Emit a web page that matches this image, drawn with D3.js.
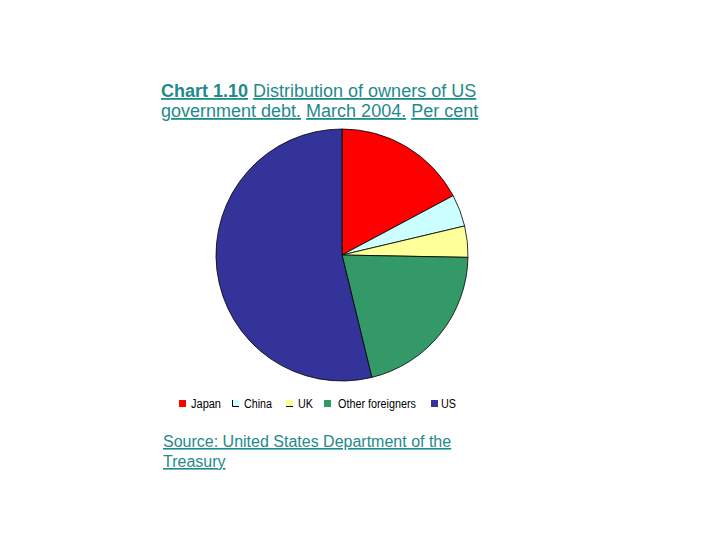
<!DOCTYPE html>
<html>
<head>
<meta charset="utf-8">
<script src="https://cdn.jsdelivr.net/npm/d3@7"></script>
<style>
  body { margin: 0; background: #fff; }
  .title, .source { fill: #1f8a8a; font-family: "Liberation Sans", Arial, sans-serif; }
  .legend text { font-family: "Liberation Sans", Arial, sans-serif; font-size: 12px; fill: #000; }
</style>
</head>
<body>
<div id="chart"></div>
<script>
// owners of US government debt, March 2004, per cent
var owners = ["Japan", "China", "UK", "Other foreigners", "US"];
var shares = [17.2, 4.1, 4.0, 20.9, 53.8];
var colours = ["#ff0000", "#ccffff", "#ffff99", "#339966", "#333399"];

var titleLines = [
  [{t: "Chart 1.10", b: true, u: true}, {t: " ", u: false}, {t: "Distribution of owners of US", u: true}],
  [{t: "government debt.", u: true}, {t: " ", u: false}, {t: "March 2004.", u: true}, {t: " ", u: false}, {t: "Per cent", u: true}]
];
var sourceLines = ["Source: United States Department of the", "Treasury"];

var width = 720, height = 540;
var centre = {x: 342, y: 255}, radius = 126;

var svg = d3.select("#chart").append("svg")
    .attr("width", width)
    .attr("height", height);

// title, two lines, underlined pieces
var title = svg.append("g").attr("class", "title");
titleLines.forEach(function (line, i) {
  var txt = title.append("text")
      .attr("x", 161)
      .attr("y", 97 + i * 20)
      .style("font-size", "18px");
  txt.selectAll("tspan").data(line).enter().append("tspan")
      .style("font-weight", function (d) { return d.b ? "bold" : "normal"; })
      .style("text-decoration", function (d) { return d.u ? "underline" : "none"; })
      .attr("xml:space", "preserve")
      .text(function (d) { return d.t; });
});

// pie
var pie = d3.pie().sort(null).value(function (d) { return d; });
var arc = d3.arc().innerRadius(0).outerRadius(radius);
var colour = d3.scaleOrdinal().domain(owners).range(colours);

svg.append("g")
    .attr("transform", "translate(" + centre.x + "," + centre.y + ")")
  .selectAll("path")
    .data(pie(shares))
  .enter().append("path")
    .attr("d", arc)
    .attr("fill", function (d, i) { return colour(owners[i]); })
    .attr("stroke", "#000")
    .attr("stroke-width", 0.8)
    .attr("stroke-linejoin", "round");

// legend
var legendX = d3.scaleOrdinal().domain(owners).range([179, 232, 286, 324, 431]);
var legendW = d3.scaleOrdinal().domain(owners).range([30, 28, 15, 78, 15]);
var legend = svg.append("g").attr("class", "legend");
var item = legend.selectAll("g").data(owners).enter().append("g")
    .attr("transform", function (d) { return "translate(" + legendX(d) + ",400)"; });
item.append("rect")
    .attr("width", 7)
    .attr("height", 7)
    .attr("fill", function (d) { return colour(d); });
item.filter(function (d) { return d === "China" || d === "UK"; })
  .append("path")
    .attr("d", function (d) { return d === "China" ? "M0.5,0V6.5H7" : "M0,6.5H7"; })
    .attr("fill", "none")
    .attr("stroke", "#000")
    .attr("stroke-width", 1);
item.append("text")
    .attr("x", function (d) { return d === "US" ? 10 : d === "Other foreigners" ? 14 : 12; })
    .attr("y", 8)
    .attr("textLength", function (d) { return legendW(d); })
    .attr("lengthAdjust", "spacingAndGlyphs")
    .text(function (d) { return d; });

// source note
svg.append("g").attr("class", "source")
  .selectAll("text").data(sourceLines).enter().append("text")
    .attr("x", 163)
    .attr("y", function (d, i) { return 447 + i * 20; })
    .style("font-size", "16px")
    .style("text-decoration", "underline")
    .text(function (d) { return d; });
</script>
</body>
</html>
